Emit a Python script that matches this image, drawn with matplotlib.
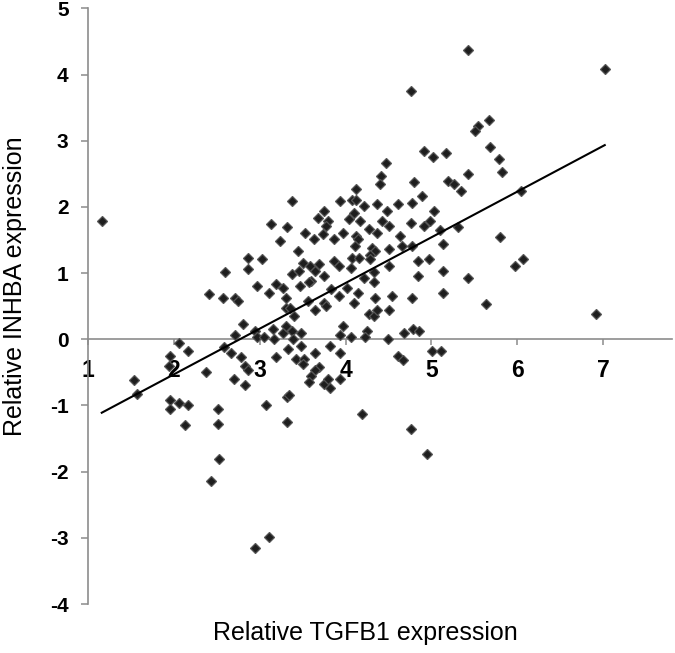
import numpy as np
import matplotlib
matplotlib.use("Agg")
from matplotlib import pyplot as plt

plt.rcParams['font.family'] = ['Liberation Sans', 'DejaVu Sans']
plt.rcParams['axes.unicode_minus'] = False

# TGFB1 (x) vs INHBA (y)
tgfb1 = [1.16, 5.43, 7.02, 4.76, 5.67, 5.54, 5.51, 5.68, 5.79, 5.82,
         4.92, 5.02, 5.17, 5.43, 4.47, 4.41, 4.40, 5.19, 5.26, 5.34,
         6.05, 4.12, 4.08, 4.12, 3.94, 3.38, 4.22, 4.37, 4.61, 4.77,
         4.89, 4.80, 4.10, 3.75, 3.68, 3.80, 3.77, 3.74, 4.04, 4.17,
         4.48, 4.43, 4.51, 5.03, 4.99, 4.92, 4.76, 5.10, 5.31, 3.13,
         3.32, 3.53, 3.63, 3.87, 3.97, 3.24, 4.12, 4.14, 4.27, 4.37,
         4.64, 4.66, 4.77, 5.14, 5.80, 3.45, 4.11, 4.31, 4.34, 4.28,
         4.51, 4.07, 4.16, 4.29, 2.86, 3.03, 2.86, 2.60, 3.51, 3.59,
         3.69, 3.87, 3.92, 4.06, 3.38, 3.46, 3.65, 3.75, 4.33, 4.51,
         4.85, 4.97, 5.14, 4.85, 5.43, 5.98, 6.07, 2.97, 3.19, 3.27,
         3.47, 3.60, 3.57, 4.02, 4.22, 4.33, 3.83, 3.92, 4.14, 2.41,
         2.57, 2.71, 2.75, 3.11, 3.31, 3.56, 3.75, 4.10, 4.34, 4.54,
         4.77, 5.14, 3.31, 3.35, 3.64, 3.77, 3.40, 4.27, 4.33, 4.37,
         4.51, 5.64, 6.92, 2.80, 2.94, 2.71, 2.97, 3.05, 3.16, 3.17,
         3.27, 3.31, 3.38, 3.39, 3.48, 3.97, 3.93, 4.06, 4.25, 4.23,
         4.49, 4.68, 4.79, 4.86,
         2.06, 2.16, 1.95, 1.94, 1.54, 1.57, 1.95, 1.96, 2.06, 2.16,
         2.13, 2.37, 2.58, 2.66, 2.78, 2.83, 2.86, 2.70, 2.83, 2.52,
         2.51, 2.53, 2.43, 2.94, 3.11, 3.07, 3.32, 3.34, 3.32, 3.19,
         3.33, 3.48, 3.42, 3.52, 3.51, 3.65, 3.69, 3.65, 3.60, 3.57,
         3.75, 3.80, 3.82, 3.82, 3.94, 3.94, 4.19, 4.61, 4.67, 4.76,
         4.95, 5.01, 5.11]
inhba = [1.79, 4.37, 4.09, 3.75, 3.32, 3.22, 3.15, 2.90, 2.72, 2.52,
         2.84, 2.76, 2.82, 2.49, 2.67, 2.47, 2.34, 2.39, 2.34, 2.24,
         2.24, 2.27, 2.11, 2.11, 2.09, 2.09, 2.01, 2.04, 2.04, 2.06,
         2.17, 2.37, 1.91, 1.94, 1.84, 1.79, 1.71, 1.59, 1.81, 1.79,
         1.94, 1.79, 1.71, 1.94, 1.78, 1.71, 1.76, 1.65, 1.69, 1.74,
         1.69, 1.61, 1.51, 1.51, 1.61, 1.49, 1.56, 1.51, 1.66, 1.61,
         1.56, 1.41, 1.41, 1.44, 1.54, 1.33, 1.41, 1.38, 1.33, 1.28,
         1.36, 1.23, 1.23, 1.21, 1.23, 1.21, 1.06, 1.01, 1.16, 1.11,
         1.13, 1.18, 1.11, 1.08, 0.98, 1.03, 1.03, 0.96, 1.01, 1.11,
         1.18, 1.21, 1.03, 0.96, 0.93, 1.11, 1.21, 0.81, 0.83, 0.78,
         0.81, 0.88, 0.86, 0.78, 0.93, 0.86, 0.76, 0.65, 0.70, 0.68,
         0.63, 0.63, 0.58, 0.70, 0.63, 0.58, 0.55, 0.55, 0.63, 0.65,
         0.63, 0.70, 0.48, 0.48, 0.45, 0.50, 0.35, 0.38, 0.35, 0.45,
         0.45, 0.53, 0.38, 0.23, 0.13, 0.07, 0.03, 0.03, 0.15, 0.00,
         0.09, 0.20, 0.13, 0.00, 0.09, 0.20, 0.07, 0.03, 0.12, 0.04,
         0.00, 0.09, 0.15, 0.13,
         -0.05, -0.17, -0.25, -0.40, -0.62, -0.83, -0.92, -1.05, -0.97, -1.00,
         -1.30, -0.50, -0.11, -0.20, -0.27, -0.40, -0.46, -0.60, -0.69, -1.05,
         -1.28, -1.81, -2.14, -3.16, -2.98, -1.00, -0.87, -0.84, -1.25, -0.27,
         -0.15, -0.10, -0.30, -0.30, -0.37, -0.20, -0.42, -0.47, -0.55, -0.65,
         -0.68, -0.60, -0.73, -0.10, -0.20, -0.60, -1.13, -0.25, -0.32, -1.35,
         -1.73, -0.17, -0.17]

# trend line as drawn in the figure
slope = 0.69
intercept = -1.91

xticks = [1, 2, 3, 4, 5, 6, 7]
yticks = [-4, -3, -2, -1, 0, 1, 2, 3, 4, 5]

fig = plt.figure(figsize=(6.75, 6.53), dpi=100)
ax = fig.add_axes([0.1304, 0.075, 0.8647, 0.9122])

ax.plot(tgfb1, inhba, 'D', color='#1e1e1e', ms=5, mec='#555555', mew=0.9, zorder=3)

lx = np.array([min(tgfb1), max(tgfb1)])
ax.plot(lx, slope * lx + intercept, color='black', lw=1.5, zorder=4)

ax.set_xlim(1, 7.8)
ax.set_ylim(-4, 5)

ax.spines['top'].set_visible(False)
ax.spines['right'].set_visible(False)
ax.spines['bottom'].set_position(('data', 0))
for s in ['left', 'bottom']:
    ax.spines[s].set_color('#8c8c8c')
    ax.spines[s].set_linewidth(1.2)

ax.set_xticks(xticks)
ax.set_yticks(yticks)
ax.tick_params(axis='x', direction='out', length=4.5, width=1.1, color='#8c8c8c',
               pad=10, labelsize=16.5)
ax.tick_params(axis='y', direction='out', length=5, width=1.1, color='#8c8c8c',
               pad=9, labelsize=15)
for lab in ax.get_xticklabels() + ax.get_yticklabels():
    lab.set_fontweight('bold')

ax.set_xlabel('Relative TGFB1 expression', fontsize=18)
ax.set_ylabel('Relative INHBA expression', fontsize=18)
ax.xaxis.set_label_coords(0.476, -0.049)
ax.yaxis.set_label_coords(-0.125, 0.534)
ax.xaxis.label.set_verticalalignment('center')
ax.yaxis.label.set_verticalalignment('center')

plt.savefig('out.png', dpi=100)
